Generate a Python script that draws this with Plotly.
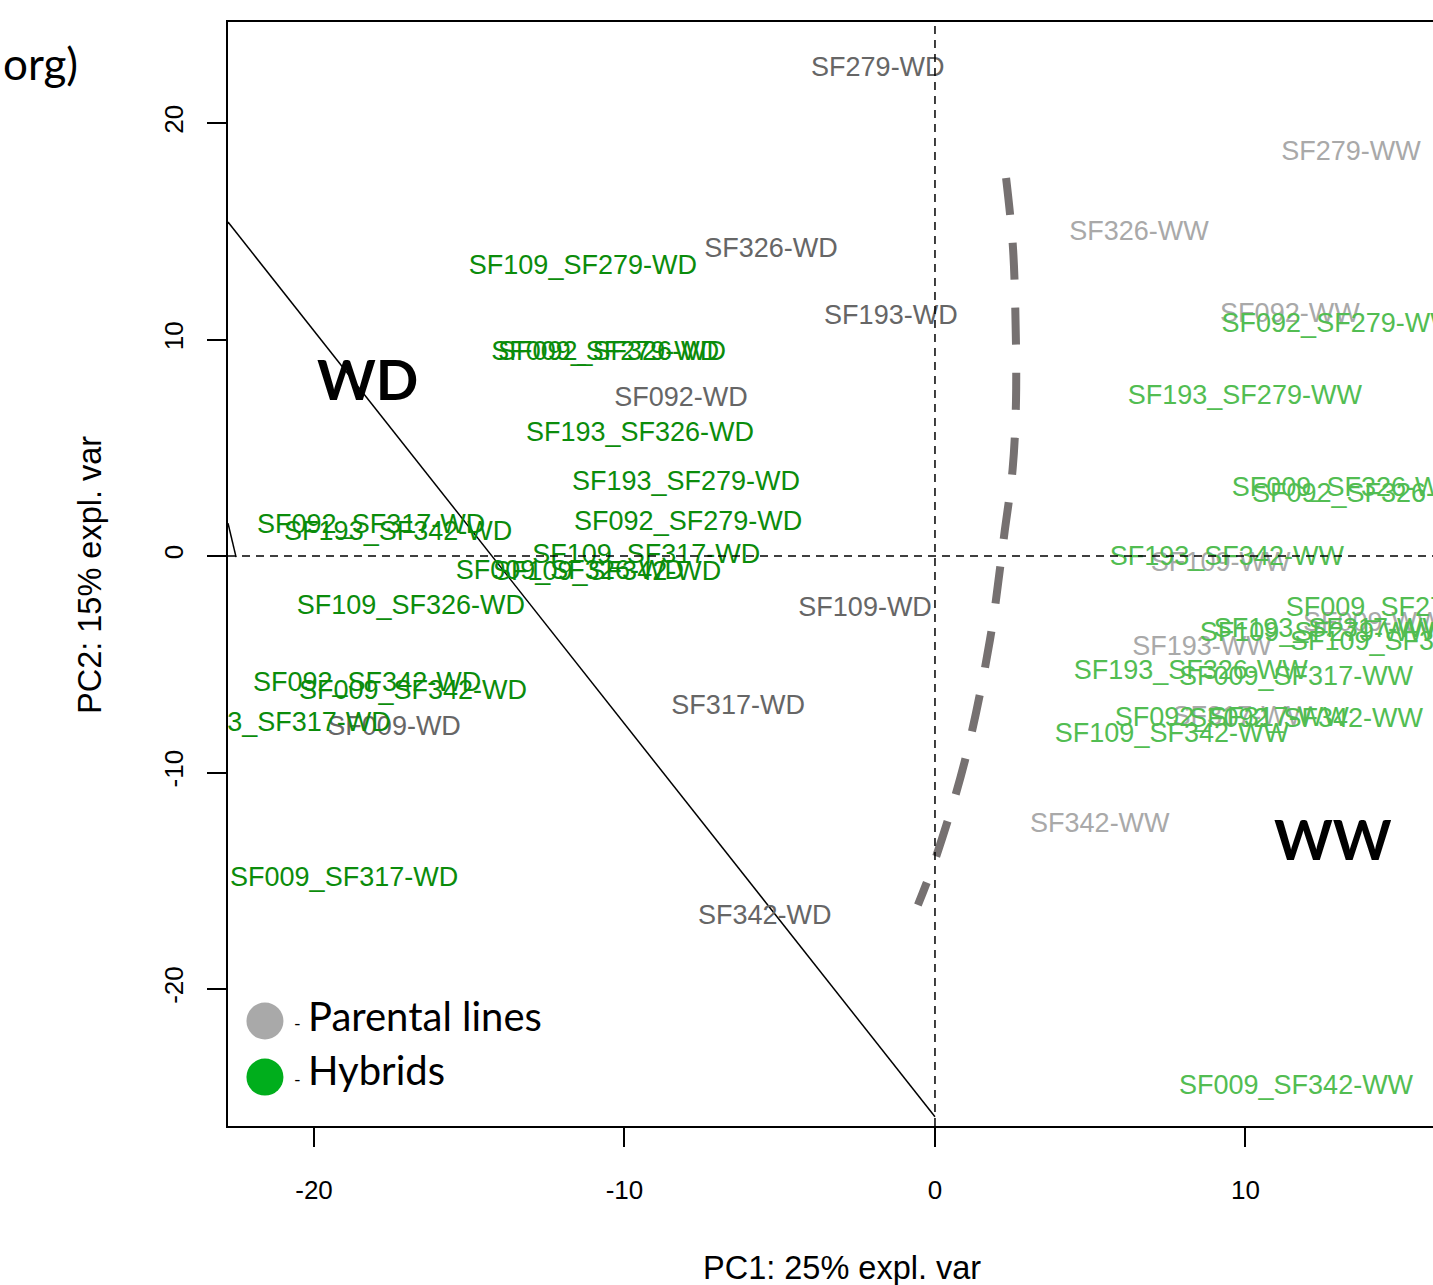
import plotly.graph_objects as go

# ---------------- data (PC1, PC2 scores) ----------------
par_wd_labels = ["SF279-WD", "SF326-WD", "SF193-WD", "SF092-WD", "SF109-WD",
                 "SF317-WD", "SF009-WD", "SF342-WD"]
par_wd_x = [-1.84, -5.28, -1.42, -8.18, -2.25, -6.34, -17.42, -5.48]
par_wd_y = [22.50, 14.14, 11.04, 7.25, -2.45, -6.97, -7.94, -16.67]

par_ww_labels = ["SF279-WW", "SF326-WW", "SF092-WW", "SF109-WW", "SF193-WW",
                 "SF009-WW", "SF317-WW", "SF342-WW"]
par_ww_x = [13.40, 6.57, 11.43, 9.20, 8.60, 14.10, 9.90, 5.31]
par_ww_y = [18.62, 14.92, 11.13, -0.39, -4.25, -3.14, -7.49, -12.42]

hyb_wd_labels = ["SF109_SF279-WD", "SF009_SF279-WD", "SF092_SF326-WD", "SF193_SF326-WD",
                 "SF193_SF279-WD", "SF092_SF279-WD", "SF109_SF317-WD", "SF009_SF326-WD",
                 "SF109_SF342-WD", "SF092_SF317-WD", "SF193_SF342-WD", "SF109_SF326-WD",
                 "SF092_SF342-WD", "SF009_SF342-WD", "SF193_SF317-WD", "SF009_SF317-WD"]
hyb_wd_x = [-11.34, -10.62, -10.40, -9.50, -8.02, -7.95, -9.30, -11.76,
            -10.56, -18.16, -17.29, -16.88, -18.29, -16.81, -21.20, -19.03]
hyb_wd_y = [13.35, 9.38, 9.38, 5.64, 3.37, 1.53, 0.00, -0.74,
            -0.78, 1.39, 1.06, -2.35, -5.91, -6.28, -7.76, -14.92]

hyb_ww_labels = ["SF092_SF279-WW", "SF193_SF279-WW", "SF009_SF326-WW", "SF092_SF326-WW",
                 "SF193_SF342-WW", "SF009_SF279-WW", "SF109_SF279-WW", "SF193_SF317-WW",
                 "SF109_SF326-WW", "SF193_SF326-WW", "SF009_SF317-WW", "SF092_SF317-WW",
                 "SF092_SF342-WW", "SF109_SF342-WW", "SF009_SF342-WW"]
hyb_ww_x = [13.00, 9.98, 13.33, 13.98, 9.40, 15.07, 12.30, 12.75,
            15.20, 8.24, 11.63, 9.56, 11.95, 7.63, 11.63]
hyb_ww_y = [10.67, 7.35, 3.10, 2.82, -0.09, -2.45, -3.59, -3.44,
            -4.02, -5.36, -5.63, -7.53, -7.57, -8.27, -24.52]

# separation line and hand-drawn boundary curve
sep_x = [-22.77, 0.0]
sep_y = [15.43, -25.9]
stub_x = [-22.77, -22.51]
stub_y = [1.52, -0.05]
curve_x = [2.29, 2.50, 2.58, 2.61, 2.50, 2.25, 1.77, 0.97, 0.0, -0.55]
curve_y = [17.46, 14.5, 11.82, 7.21, 4.0, 1.2, -3.88, -9.42, -14.04, -16.12]

legend_x = [-21.58, -21.58]
legend_y = [-21.48, -24.07]
legend_colors = ["#a9a9a9", "#00ae1c"]

x_ticks = [-20, -10, 0, 10]
y_ticks = [-20, -10, 0, 10, 20]
x_range = [-22.77, 16.04]
y_range = [-26.33, 24.67]

# ---------------- figure ----------------
FONT = "Liberation Sans, Arial, sans-serif"
LAB = 27

fig = go.Figure()

fig.add_trace(go.Scatter(x=sep_x, y=sep_y, mode="lines",
                         line=dict(color="black", width=1.5), hoverinfo="skip"))
fig.add_trace(go.Scatter(x=stub_x, y=stub_y, mode="lines",
                         line=dict(color="black", width=1.5), hoverinfo="skip"))

groups = [
    (par_wd_labels, par_wd_x, par_wd_y, "#666666"),
    (par_ww_labels, par_ww_x, par_ww_y, "#a9a9a9"),
    (hyb_wd_labels, hyb_wd_x, hyb_wd_y, "#0b8c0b"),
    (hyb_ww_labels, hyb_ww_x, hyb_ww_y, "#52bd52"),
]
for labels, xs, ys, col in groups:
    fig.add_trace(go.Scatter(x=xs, y=ys, mode="text", text=labels,
                             textposition="middle center", cliponaxis=True,
                             textfont=dict(family=FONT, size=LAB, color=col),
                             hoverinfo="skip"))

fig.add_trace(go.Scatter(x=curve_x, y=curve_y, mode="lines",
                         line=dict(color="#767171", width=8, dash="37px,28px", shape="spline"),
                         hoverinfo="skip"))

fig.add_trace(go.Scatter(x=legend_x, y=legend_y, mode="markers",
                         marker=dict(size=37, color=legend_colors), hoverinfo="skip"))

# zero lines
fig.add_shape(type="line", xref="x", yref="paper", x0=0, x1=0, y0=0, y1=1,
              line=dict(color="black", width=1.5, dash="8px,6px"))
fig.add_shape(type="line", xref="paper", yref="y", x0=0, x1=1, y0=0, y1=0,
              line=dict(color="black", width=1.5, dash="8px,6px"))

W, H = 1433, 1285
L, R, T, B = 228, 0, 22, 159
pw, ph = W - L - R, H - T - B


def px(x):
    return (x - L) / pw


def py(y):
    return (H - B - y) / ph


def note(text, x, y, size, family="Lato", xanchor="center", angle=0):
    return dict(text=text, x=px(x), y=py(y), xref="paper", yref="paper",
                xanchor=xanchor, yanchor="middle", textangle=angle,
                showarrow=False, font=dict(family=family, size=size, color="black"))


ann = [
    note("<b>WD</b>", 367, 378, 56),
    note("<b>WW</b>", 1333, 838, 56),
    note("-", 292, 1023, 18, xanchor="left"),
    note("Parental lines", 306, 1016, 40, xanchor="left"),
    note("-", 292, 1079, 18, xanchor="left"),
    note("Hybrids", 306, 1070, 40, xanchor="left"),
    note("org)", 80, 63, 44, xanchor="right"),
    note("PC1: 25% expl. var", 842, 1268, 32.5, family=FONT),
    note("PC2: 15% expl. var", 90, 575, 32.5, family=FONT, angle=-90),
]

fig.update_layout(
    width=W, height=H, autosize=False,
    margin=dict(l=L, r=R, t=T, b=B, pad=0),
    paper_bgcolor="white", plot_bgcolor="white",
    showlegend=False,
    annotations=ann,
    xaxis=dict(range=x_range, tickmode="array", tickvals=x_ticks,
               ticktext=[str(v) for v in x_ticks],
               showgrid=False, zeroline=False, showline=True, mirror=True,
               linecolor="black", linewidth=2, ticks="outside", ticklen=19,
               tickwidth=1.5, tickcolor="black", ticklabelstandoff=21,
               tickfont=dict(family=FONT, size=26, color="black")),
    yaxis=dict(range=y_range, tickmode="array", tickvals=y_ticks,
               ticktext=[str(v) for v in y_ticks],
               showgrid=False, zeroline=False, showline=True, mirror=False,
               linecolor="black", linewidth=2, ticks="outside", ticklen=19,
               tickwidth=1.5, tickcolor="black", tickangle=-90, ticklabelstandoff=14,
               tickfont=dict(family=FONT, size=26, color="black")),
)

fig.write_html("out.html", config={"displayModeBar": False},
               post_script="document.body.style.margin='0';")
